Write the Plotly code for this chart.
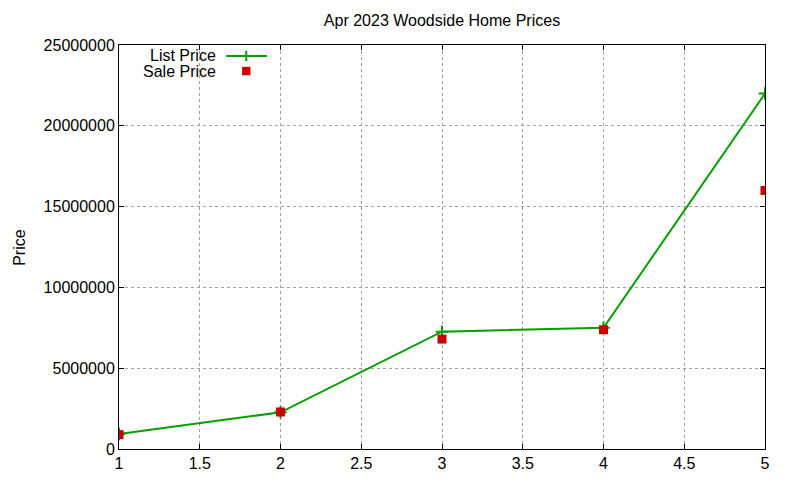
import plotly.graph_objects as go

# Daten
homes = [1, 2, 3, 4, 5]
list_price = [930000, 2270000, 7260000, 7500000, 22000000]
sale_price = [890000, 2290000, 6800000, 7380000, 16000000]

green = '#00a000'
red = '#cc0000'

fig = go.Figure()
fig.add_trace(go.Scatter(x=homes, y=list_price, mode='lines+markers', name='List Price',
                         line=dict(color=green, width=2),
                         marker=dict(symbol='cross-thin', size=9, line=dict(color=green, width=2))))
fig.add_trace(go.Scatter(x=homes, y=sale_price, mode='markers', name='Sale Price',
                         marker=dict(symbol='square', size=9, color=red)))

fig.update_layout(
    width=800, height=480,
    margin=dict(l=111, r=43, t=37, b=39),
    paper_bgcolor='white', plot_bgcolor='white',
    font=dict(family='Liberation Sans, Arial, sans-serif', size=16, color='black'),
    showlegend=False,
    title=dict(text='Apr 2023 Woodside Home Prices', x=0.5, xref='paper', xanchor='center',
               y=0.975, yanchor='middle', font=dict(size=16)),
)
axis_style = dict(showline=True, linecolor='black', linewidth=1, mirror='ticks',
                  ticks='inside', ticklen=5, tickcolor='black',
                  showgrid=True, gridcolor='#a0a0a0', griddash='dot', gridwidth=1,
                  zeroline=False)
fig.update_xaxes(range=[1, 5], tickvals=[1, 1.5, 2, 2.5, 3, 3.5, 4, 4.5, 5],
                 ticktext=['1', '1.5', '2', '2.5', '3', '3.5', '4', '4.5', '5'], **axis_style)
fig.update_yaxes(range=[0, 25000000], dtick=5000000, tickformat='d', **axis_style)

# Achsentitel und Legende im gnuplot-Stil
fig.add_annotation(text='Price', xref='paper', yref='paper', x=-0.155, y=0.5,
                   xanchor='center', yanchor='middle',
                   textangle=-90, showarrow=False, font=dict(size=16))
fig.add_annotation(text='List Price', xref='paper', yref='paper', x=0.153, y=0.973,
                   xanchor='right', yanchor='middle', showarrow=False)
fig.add_annotation(text='Sale Price', xref='paper', yref='paper', x=0.153, y=0.934,
                   xanchor='right', yanchor='middle', showarrow=False)
fig.add_shape(type='line', xref='paper', yref='paper', x0=0.166, x1=0.229, y0=0.973, y1=0.973,
              line=dict(color=green, width=2))
fig.add_shape(type='line', xref='paper', yref='paper', x0=0.189, x1=0.205, y0=0.973, y1=0.973,
              line=dict(color=green, width=2))
fig.add_shape(type='line', xref='paper', yref='paper', x0=0.197, x1=0.197, y0=0.960, y1=0.986,
              line=dict(color=green, width=2))
fig.add_shape(type='rect', xref='paper', yref='paper', x0=0.1905, x1=0.2035, y0=0.925, y1=0.946,
              line=dict(width=0), fillcolor=red)

fig.write_html('out.html')
